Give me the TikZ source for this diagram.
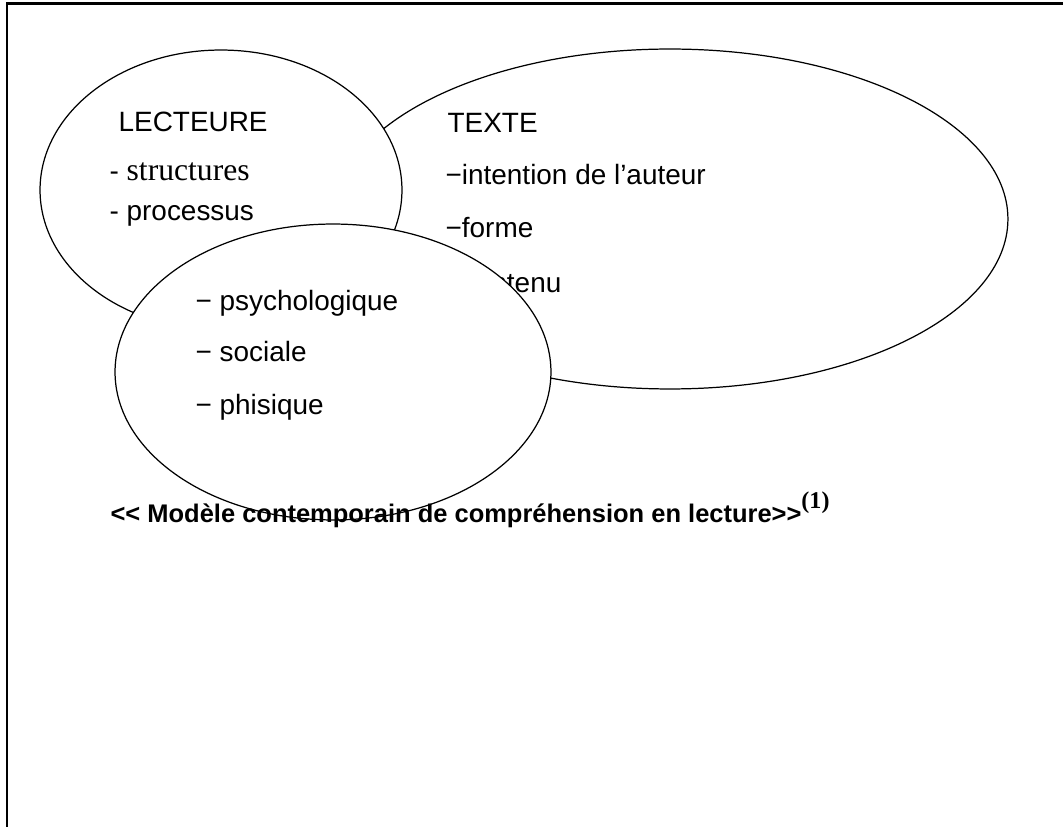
\documentclass[tikz,border=0pt]{standalone}
\usepackage{fontspec}
\setmainfont{Liberation Sans}
\newfontfamily\timesfont{Liberation Serif}
\usetikzlibrary{shapes.geometric, positioning}

\begin{document}
\begin{tikzpicture}[x=0.02cm, y=-0.02cm, line width=0.7pt,
    bulle/.style={ellipse, draw, fill=white, inner sep=0pt},
    ligne/.style={anchor=base west, inner sep=0pt, font=\fontsize{15.9}{19}\selectfont}]
    \useasboundingbox (0,0) rectangle (1063,827);

    % Cadre
    \draw[line width=1.2pt] (1063,3.5) -- (7,3.5) -- (7,827);

    % Texte
    \node[bulle, minimum width=13.52cm, minimum height=6.8cm] (texte) at (670,219) {};
    \node[ligne] (tx0) at (447,133) {TEXTE};
    \node[ligne] (tx1) at (445,185) {−intention de l’auteur};
    \node[ligne] (tx2) at (445,238) {−forme};
    \node[ligne] (tx3) at (445,293) {−contenu};

    % Lecteur
    \node[bulle, minimum width=7.24cm, minimum height=5.6cm] (lect) at (221,190) {};
    \node[ligne] (lc0) at (118,132) {LECTEURE};
    \node[ligne] (lc1) at (109,181) {- {\timesfont\fontsize{18}{21}\selectfont structures}};
    \node[ligne] (lc2) at (109,221) {- processus};

    % Contexte
    \node[bulle, minimum width=8.72cm, minimum height=5.92cm] (ctx) at (333,372) {};
    \node[ligne] (cx1) at (195,311) {− psychologique};
    \node[ligne] (cx2) at (195,362) {− sociale};
    \node[ligne] (cx3) at (195,415) {− phisique};

    % Titre
    \node[anchor=base west, inner sep=0pt, font=\bfseries\fontsize{14.5}{17}\selectfont] (titre) at (110,523)
        {<{}< Modèle contemporain de compréhension en lecture>{}>\raisebox{8pt}{\timesfont\bfseries\fontsize{13.7}{16}\selectfont(1)}};
\end{tikzpicture}
\end{document}
